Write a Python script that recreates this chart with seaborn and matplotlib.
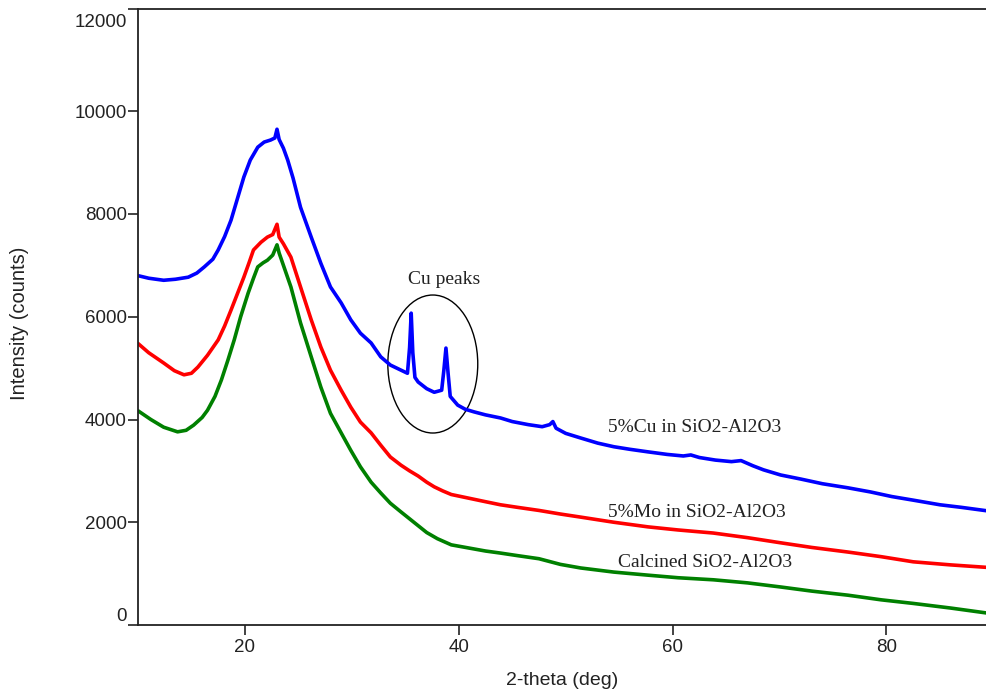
import matplotlib
matplotlib.use("Agg")
import matplotlib.pyplot as plt
from matplotlib.patches import Ellipse
from matplotlib.transforms import ScaledTranslation
import seaborn as sns
import pandas as pd

# ---------------- data ----------------
cu_x = [10.0, 11.0, 12.4, 13.5, 14.7, 15.5, 16.2, 17.0, 17.5, 18.1, 18.7, 19.3, 19.9,
        20.5, 21.2, 21.8, 22.4, 22.8, 23.0, 23.2, 23.6, 24.0, 24.5, 25.2, 26.2, 27.1,
        28.0, 29.0, 29.9, 30.8, 31.8, 32.7, 33.6, 34.6, 35.2, 35.4, 35.55, 35.7, 35.9,
        36.2, 37.0, 37.7, 38.4, 38.6, 38.8, 39.0, 39.2, 39.9, 40.6, 41.4, 42.5, 43.9,
        45.0, 46.5, 47.8, 48.5, 48.8, 49.1, 50.0, 51.4, 53.0, 54.5, 56.0, 57.7, 59.5,
        61.0, 61.7, 62.5, 64.0, 65.5, 66.4, 67.5, 68.5, 70.1, 72.0, 74.0, 76.4, 78.5,
        80.5, 82.5, 85.0, 87.0, 89.5]
cu_y = [6800, 6750, 6710, 6730, 6770, 6850, 6970, 7120, 7300, 7560, 7880, 8300, 8720,
        9050, 9300, 9400, 9440, 9480, 9650, 9450, 9280, 9050, 8700, 8130, 7550, 7040,
        6580, 6270, 5940, 5680, 5490, 5220, 5060, 4960, 4900, 5400, 6070, 5300, 4820,
        4730, 4600, 4530, 4570, 4950, 5390, 4900, 4450, 4280, 4200, 4150, 4090, 4030,
        3960, 3900, 3860, 3900, 3960, 3830, 3730, 3640, 3540, 3470, 3420, 3370, 3320,
        3290, 3310, 3260, 3210, 3180, 3200, 3100, 3020, 2920, 2840, 2750, 2670, 2590,
        2500, 2430, 2340, 2290, 2220]

mo_x = [10.0, 11.0, 12.4, 13.4, 14.3, 15.0, 15.6, 16.5, 17.5, 18.1, 18.7, 19.3, 19.9,
        20.4, 20.8, 21.5, 22.1, 22.6, 23.0, 23.2, 23.6, 24.3, 25.2, 26.2, 27.1, 28.0,
        29.0, 29.9, 30.8, 31.8, 32.7, 33.6, 34.6, 35.4, 36.2, 37.0, 37.7, 38.5, 39.3,
        40.9, 42.5, 43.9, 45.5, 47.5, 49.5, 51.4, 54.5, 57.7, 60.5, 63.8, 67.0, 70.1,
        73.0, 76.4, 79.5, 82.5, 86.0, 89.5]
mo_y = [5480, 5300, 5100, 4950, 4870, 4900, 5020, 5250, 5550, 5820, 6130, 6450, 6770,
        7060, 7300, 7450, 7550, 7600, 7800, 7550, 7420, 7160, 6580, 5940, 5410, 4960,
        4570, 4240, 3950, 3740, 3500, 3270, 3110, 3000, 2900, 2780, 2690, 2610, 2540,
        2470, 2400, 2340, 2290, 2230, 2160, 2100, 2000, 1910, 1850, 1790, 1700, 1600,
        1510, 1420, 1330, 1230, 1170, 1120]

cal_x = [10.0, 11.2, 12.4, 13.7, 14.5, 15.2, 16.0, 16.5, 17.2, 17.8, 18.4, 19.0, 19.6,
         20.3, 20.8, 21.2, 21.7, 22.1, 22.6, 23.0, 23.2, 23.6, 24.3, 25.2, 26.2, 27.1,
         28.0, 29.0, 29.9, 30.8, 31.8, 32.7, 33.6, 34.6, 35.8, 37.0, 38.0, 39.3, 40.9,
         42.5, 43.9, 45.5, 47.5, 49.5, 51.4, 54.5, 57.7, 60.5, 63.8, 67.0, 70.1, 73.0,
         76.4, 79.5, 82.5, 86.0, 89.5]
cal_y = [4170, 4000, 3850, 3760, 3790, 3890, 4040, 4180, 4450, 4770, 5150, 5550, 6000,
         6460, 6750, 6970, 7050, 7100, 7200, 7400, 7240, 7000, 6580, 5880, 5220, 4630,
         4120, 3740, 3400, 3080, 2780, 2570, 2370, 2200, 2000, 1800, 1680, 1560, 1500,
         1440, 1400, 1350, 1290, 1180, 1110, 1030, 970, 920, 880, 820, 740, 660,
         580, 490, 420, 330, 230]

series_names = ["5%Cu in SiO2-Al2O3", "5%Mo in SiO2-Al2O3", "Calcined SiO2-Al2O3"]
series_colors = ["#0000ff", "#ff0000", "#008000"]
x_ticks = [20, 40, 60, 80]
y_ticks = [0, 2000, 4000, 6000, 8000, 10000, 12000]

# ---------------- style ----------------
sns.set_style("ticks")
plt.rcParams["font.family"] = ["Liberation Sans", "DejaVu Sans"]
ink = "#222222"

fig = plt.figure(figsize=(9.87, 6.93), dpi=100)
W, H = 987, 693
ax = fig.add_axes([138 / W, 1 - 625 / H, (987 - 138) / W, (625 - 8.5) / H])

for xs, ys, name, col in zip([cu_x, mo_x, cal_x], [cu_y, mo_y, cal_y],
                             series_names, series_colors):
    df = pd.DataFrame({"two_theta": xs, "intensity": ys})
    sns.lineplot(data=df, x="two_theta", y="intensity", color=col,
                 linewidth=2.6, ax=ax)

ax.set_xlim(10, 89.4)
ax.set_ylim(0, 12000)
ax.set_xticks(x_ticks)
ax.set_yticks(y_ticks)
ax.set_xticklabels([str(t) for t in x_ticks])
ax.set_yticklabels([str(t) for t in y_ticks])

for side in ["left", "bottom", "top"]:
    ax.spines[side].set_color(ink)
    ax.spines[side].set_linewidth(1.3)
ax.spines["right"].set_visible(False)

ax.tick_params(axis="both", direction="out", length=7.2, width=1.2, color=ink,
               labelcolor=ink, labelsize=13.5)
ax.tick_params(axis="y", pad=0.8)
ax.tick_params(axis="x", pad=3.0)

ylabs = ax.get_yticklabels()
ylabs[0].set_va("bottom")
ylabs[-1].set_va("top")
ylabs[-1].set_transform(ylabs[-1].get_transform() +
                        ScaledTranslation(0, -4 / 72, fig.dpi_scale_trans))

ax.set_xlabel("2-theta (deg)", fontsize=14, color=ink)
ax.set_ylabel("Intensity (counts)", fontsize=14.5, color=ink)
ax.xaxis.set_label_coords(0.5, -0.076)
ax.yaxis.set_label_coords(-0.128, 0.49)

# annotations
serif = ["Liberation Serif", "DejaVu Serif"]
ax.add_patch(Ellipse((37.57, 5080), 8.41, 2686, fill=False, edgecolor="black",
                     linewidth=1.0))
ax.text(38.6, 6733, "Cu peaks", family=serif, fontsize=14, color=ink,
        ha="center", va="center")
ax.text(53.93, 3853, series_names[0], family=serif, fontsize=14, color=ink,
        ha="left", va="center")
ax.text(53.93, 2199, series_names[1], family=serif, fontsize=14, color=ink,
        ha="left", va="center")
ax.text(54.86, 1226, series_names[2], family=serif, fontsize=14, color=ink,
        ha="left", va="center")

fig.savefig("out.png", dpi=100)
